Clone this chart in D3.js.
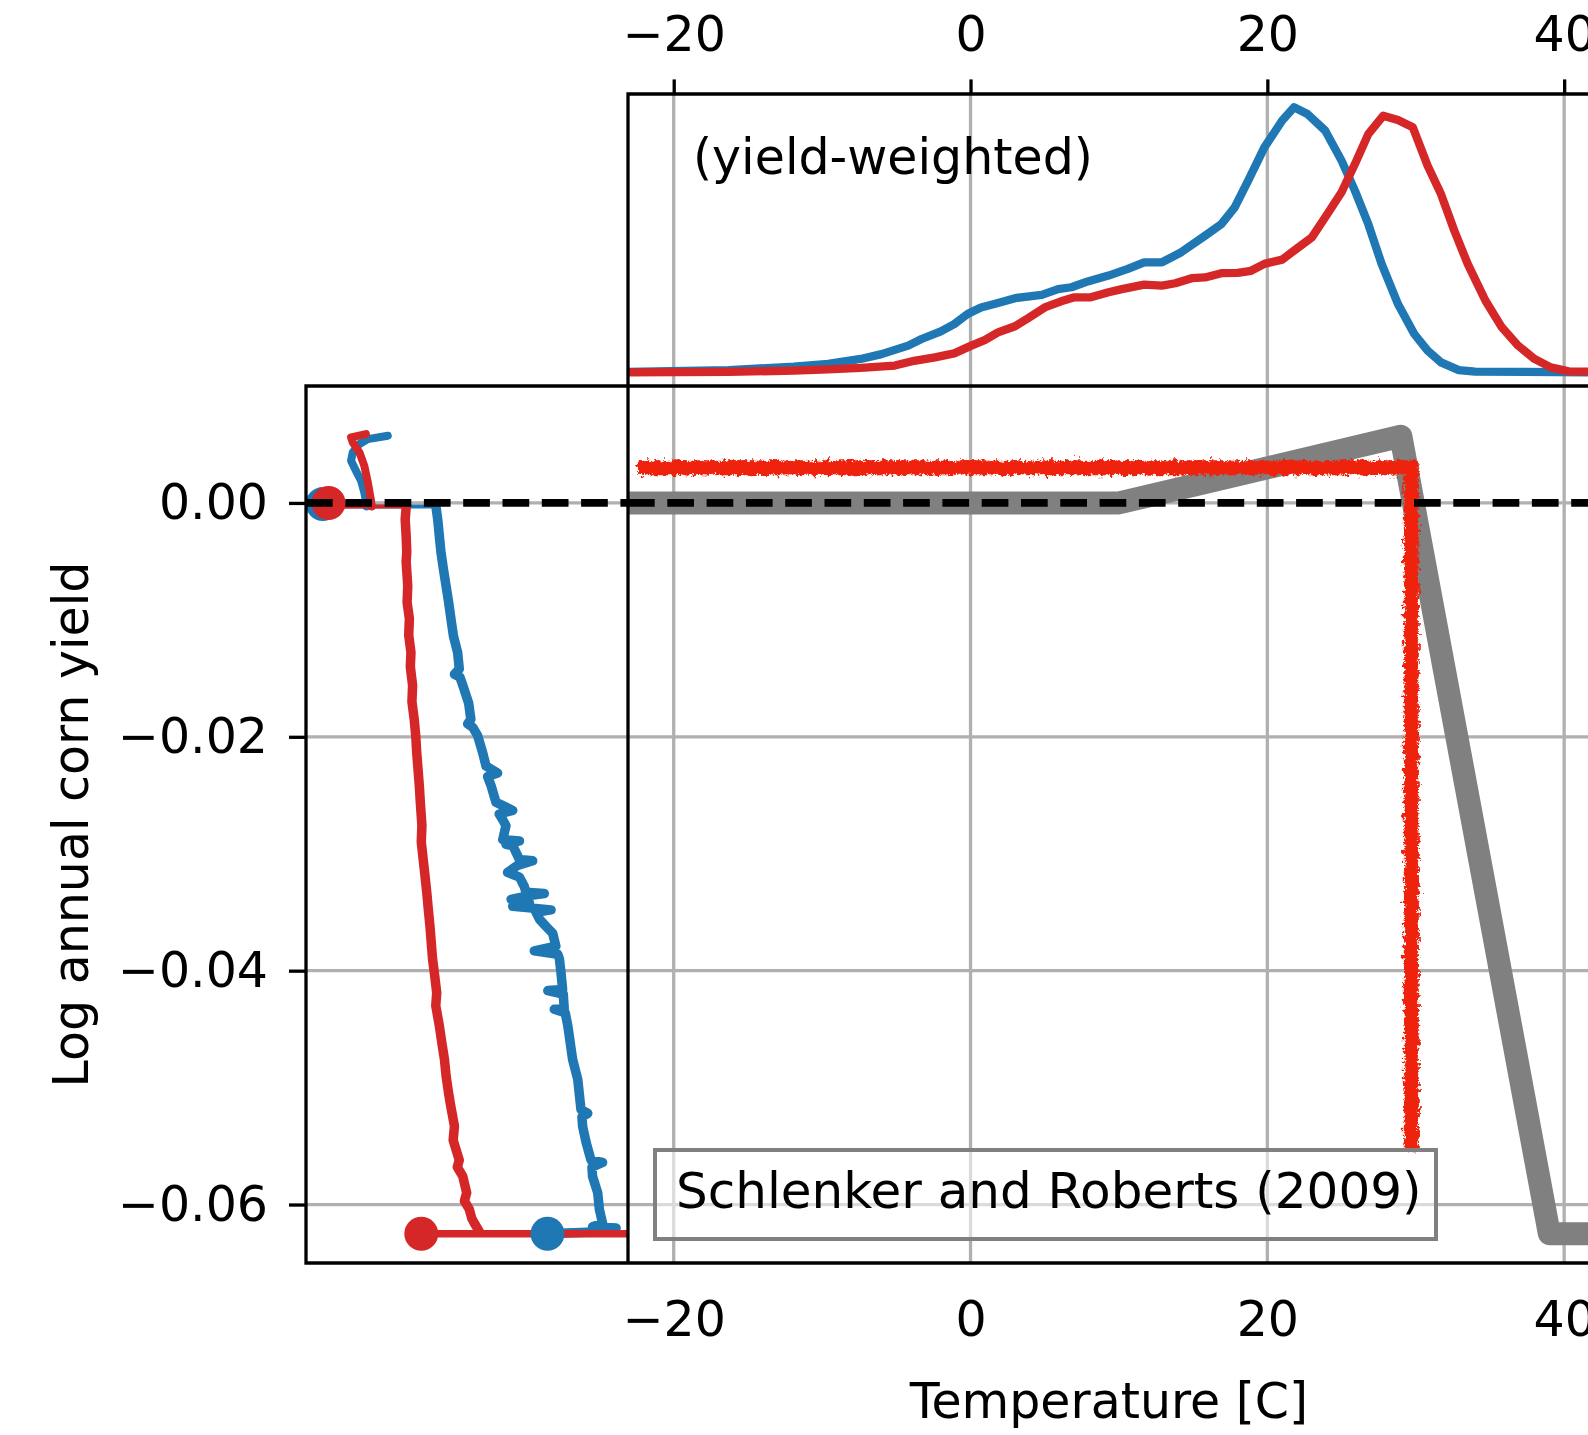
<!DOCTYPE html>
<html><head><meta charset="utf-8">
<script src="https://cdn.jsdelivr.net/npm/d3@7"></script>
<style>
body{margin:0;background:#fff;}
svg{display:block;}
text{font-family:"DejaVu Sans",sans-serif;fill:#000;}
</style>
</head><body>
<svg id="c" width="1588" height="1435"></svg>
<script>
// ---------------- DATA ----------------
const tempTicks = [-20, 0, 20, 40];
const yieldTicks = [0, -0.02, -0.04, -0.06];

// top panel: temperature exposure density (relative, peak of blue = 1)
const blueDensity = [[-26,0.003],[-23.1,0.003],[-16.3,0.010],[-11.9,0.023],[-9.6,0.033],[-7.4,0.052],[-6.0,0.070],[-4.2,0.102],[-3.3,0.127],[-2.0,0.156],[-1.1,0.183],[-0.2,0.221],[0.7,0.246],[1.6,0.259],[3.0,0.281],[4.8,0.293],[5.9,0.315],[6.8,0.322],[7.9,0.344],[9.3,0.366],[10.6,0.391],[11.7,0.416],[12.9,0.416],[14.2,0.454],[15.8,0.516],[16.9,0.560],[17.8,0.623],[18.7,0.723],[19.8,0.849],[21.0,0.950],[21.8,1.0],[22.7,0.975],[23.9,0.912],[25.0,0.799],[25.9,0.686],[26.8,0.560],[27.7,0.410],[28.8,0.259],[29.9,0.146],[30.8,0.083],[31.7,0.039],[32.9,0.010],[34.0,0.004],[41.6,0.0015],[46,0.0015]];
const redDensity = [[-26,0.0015],[-23.1,0.0015],[-16.3,0.003],[-11.9,0.008],[-9.6,0.013],[-7.4,0.018],[-5.1,0.027],[-3.8,0.045],[-2.4,0.058],[-1.1,0.073],[0.05,0.102],[0.95,0.123],[1.85,0.152],[3.0,0.175],[3.9,0.206],[5.0,0.246],[6.1,0.269],[7.0,0.284],[8.1,0.284],[9.3,0.303],[10.2,0.315],[11.7,0.332],[12.9,0.328],[13.8,0.337],[14.9,0.356],[15.8,0.359],[16.9,0.375],[18.0,0.376],[18.9,0.384],[19.8,0.410],[21.0,0.426],[21.8,0.460],[23.0,0.510],[23.9,0.586],[25.0,0.680],[25.9,0.786],[26.8,0.899],[27.8,0.968],[28.8,0.952],[29.8,0.925],[30.8,0.780],[31.7,0.673],[32.6,0.535],[33.5,0.410],[34.7,0.271],[35.8,0.171],[36.9,0.102],[38.0,0.052],[39.1,0.020],[40.3,0.005],[41.6,0.004],[46,0.004]];

// main panel: Schlenker and Roberts (2009) piecewise response
const srTemp  = [-30, 10, 29, 39, 60];
const srYield = [0, 0, 0.0057, -0.0625, -0.0625];
// main panel: noisy estimated response
const fitTemp  = [-22.4, 29.7, 29.7];
const fitYield = [0.003, 0.003, -0.0554];

// left panel: share (0..1 across panel) vs log yield
const blueTopCurve = [[0.254,0.00575],[0.192,0.00546],[0.166,0.00504],[0.145,0.00432],[0.140,0.00361],[0.155,0.00276],[0.171,0.0019],[0.181,0.0009],[0.186,0.00019],[0.188,-0.0003]];
const redTopCurve  = [[0.186,0.00589],[0.140,0.00561],[0.145,0.00518],[0.166,0.00432],[0.181,0.00318],[0.192,0.00176],[0.202,0.00019],[0.204,-0.0003]];
const blueStem = [[0.052,-0.0003],[0.404,-0.0003]];
const redStem  = [[0.070,-0.0003],[0.311,-0.0003]];
const blueDescent = [[0.404,-0.0004],[0.409,-0.0014],[0.414,-0.0028],[0.419,-0.0042],[0.427,-0.0057],[0.435,-0.0071],[0.443,-0.0085],[0.450,-0.0099],[0.458,-0.0114],[0.471,-0.0128],[0.476,-0.0142],[0.461,-0.01465],[0.478,-0.0149],[0.487,-0.0156],[0.505,-0.0171],[0.512,-0.0185],[0.502,-0.0189],[0.518,-0.0192],[0.533,-0.0199],[0.549,-0.0214],[0.559,-0.0225],[0.595,-0.0231],[0.564,-0.0234],[0.575,-0.0242],[0.590,-0.0256],[0.642,-0.0263],[0.600,-0.0266],[0.611,-0.0271],[0.621,-0.0276],[0.611,-0.0288],[0.663,-0.0289],[0.621,-0.0292],[0.642,-0.0293],[0.663,-0.0305],[0.704,-0.0306],[0.657,-0.0310],[0.626,-0.0316],[0.663,-0.0320],[0.678,-0.0328],[0.683,-0.0333],[0.740,-0.0334],[0.688,-0.0336],[0.637,-0.0339],[0.694,-0.0342],[0.642,-0.0345],[0.761,-0.0348],[0.714,-0.0350],[0.725,-0.0356],[0.745,-0.0362],[0.766,-0.0368],[0.776,-0.0379],[0.709,-0.0383],[0.782,-0.0386],[0.787,-0.0390],[0.792,-0.0402],[0.797,-0.0416],[0.751,-0.0417],[0.799,-0.0420],[0.802,-0.0433],[0.771,-0.0433],[0.805,-0.0436],[0.813,-0.0447],[0.828,-0.0476],[0.844,-0.0493],[0.854,-0.0519],[0.875,-0.0522],[0.857,-0.0525],[0.859,-0.0533],[0.870,-0.0547],[0.885,-0.0562],[0.921,-0.0564],[0.888,-0.0568],[0.890,-0.0576],[0.906,-0.0590],[0.911,-0.0604],[0.921,-0.0616],[0.890,-0.0619],[0.963,-0.0620],[0.932,-0.0623]];
const redDescent = [[0.311,-0.0004],[0.308,-0.0014],[0.311,-0.0028],[0.313,-0.0042],[0.311,-0.0050],[0.316,-0.0071],[0.314,-0.0085],[0.321,-0.0099],[0.319,-0.0113],[0.326,-0.0128],[0.324,-0.0140],[0.331,-0.0156],[0.329,-0.0170],[0.336,-0.0185],[0.341,-0.0200],[0.344,-0.0214],[0.348,-0.0228],[0.352,-0.0242],[0.355,-0.0256],[0.360,-0.0276],[0.358,-0.0290],[0.364,-0.0305],[0.370,-0.0320],[0.375,-0.0333],[0.380,-0.0348],[0.385,-0.0362],[0.389,-0.0376],[0.393,-0.0390],[0.400,-0.0405],[0.406,-0.0419],[0.403,-0.0430],[0.414,-0.0447],[0.422,-0.0462],[0.430,-0.0476],[0.435,-0.0490],[0.443,-0.0505],[0.449,-0.0515],[0.461,-0.0533],[0.457,-0.0545],[0.476,-0.0562],[0.470,-0.0568],[0.487,-0.0576],[0.499,-0.0590],[0.492,-0.0597],[0.507,-0.0604],[0.515,-0.0612],[0.523,-0.0616],[0.538,-0.0623]];
const blueBottom = [[0.750,-0.0625],[0.932,-0.0623]];
const redBottom  = [[0.358,-0.0625],[1.0,-0.0625]];
const blueDots = [[0.052,-0.0001],[0.750,-0.0625]];
const redDots  = [[0.070,0.0],[0.358,-0.0625]];

const yLabel = "Log annual corn yield";
const xLabel = "Temperature [C]";
const topNote = "(yield-weighted)";
const legendText = "Schlenker and Roberts (2009)";

// ---------------- LAYOUT ----------------
const BLUE = "#1f77b4", RED = "#d62728", FITRED = "#ee2211", GRID = "#b0b0b0";
const FS = 49;
const P = {left:306, mid:628, right:1598, top:94, split:386, bottom:1263};

const svg = d3.select("#c");
const x = d3.scaleLinear().domain([-23.08, 42.28]).range([P.mid, P.right]);
const y = d3.scaleLinear().domain([-0.065, 0.010]).range([P.bottom, P.split]);
const yTop = d3.scaleLinear().domain([-0.05, 1.05]).range([P.split, P.top]);
const xLeft = d3.scaleLinear().domain([0, 1]).range([P.left, P.mid]);

const defs = svg.append("defs");
defs.append("clipPath").attr("id","clipMain").append("rect")
  .attr("x",P.mid).attr("y",P.split).attr("width",P.right-P.mid).attr("height",P.bottom-P.split);
defs.append("clipPath").attr("id","clipTop").append("rect")
  .attr("x",P.mid).attr("y",P.top).attr("width",P.right-P.mid).attr("height",P.split-P.top);
defs.append("clipPath").attr("id","clipLeft").append("rect")
  .attr("x",P.left).attr("y",P.split).attr("width",P.mid-P.left).attr("height",P.bottom-P.split);
function roughFilter(id, seed, freq, scale){
  const f = defs.append("filter").attr("id",id)
    .attr("x","-5%").attr("y","-5%").attr("width","110%").attr("height","110%");
  f.append("feTurbulence").attr("type","fractalNoise").attr("baseFrequency",freq)
    .attr("numOctaves",3).attr("seed",seed).attr("result","noise");
  f.append("feDisplacementMap").attr("in","SourceGraphic").attr("in2","noise")
    .attr("scale",scale).attr("xChannelSelector","R").attr("yChannelSelector","G");
}
roughFilter("rough1", 3, "0.22", 14);
roughFilter("rough2", 11, "0.6", 9);
roughFilter("rough3", 27, "0.12", 10);

// ---- grid ----
const grid = svg.append("g").attr("stroke",GRID).attr("stroke-width",3.3);
tempTicks.forEach(t=>{
  grid.append("line").attr("x1",x(t)).attr("x2",x(t)).attr("y1",P.top).attr("y2",P.bottom);
});
yieldTicks.forEach(v=>{
  grid.append("line").attr("x1",P.left).attr("x2",P.right).attr("y1",y(v)).attr("y2",y(v));
});

// ---- top panel ----
const lineTop = d3.line().x(d=>x(d[0])).y(d=>yTop(d[1]));
const gTop = svg.append("g").attr("clip-path","url(#clipTop)").attr("fill","none")
  .attr("stroke-width",8.3).attr("stroke-linejoin","round");
gTop.append("path").attr("d",lineTop(blueDensity)).attr("stroke",BLUE);
gTop.append("path").attr("d",lineTop(redDensity)).attr("stroke",RED);
svg.append("text").attr("x",693).attr("y",174).attr("font-size",FS).text(topNote);

// ---- main panel ----
const gMain = svg.append("g").attr("clip-path","url(#clipMain)").attr("fill","none");
const lineMain = d3.line().x(d=>x(d[0])).y(d=>y(d[1]));
gMain.append("path").attr("d",lineMain(srTemp.map((t,i)=>[t,srYield[i]])))
  .attr("stroke","#808080").attr("stroke-width",23).attr("stroke-linejoin","round").attr("stroke-linecap","round");
const fitD = lineMain(fitTemp.map((t,i)=>[t,fitYield[i]]));
[["rough1",13],["rough2",12],["rough3",11]].forEach(([f,w])=>{
  gMain.append("g").attr("filter",`url(#${f})`).append("path")
    .attr("d",fitD).attr("stroke",FITRED).attr("stroke-width",w).attr("stroke-linejoin","miter");
});
gMain.append("line").attr("x1",P.mid).attr("x2",P.right).attr("y1",y(0)).attr("y2",y(0))
  .attr("stroke","#000").attr("stroke-width",7.8).attr("stroke-dasharray","26.7,12.6");
// legend box
const lg = svg.append("g");
lg.append("rect").attr("x",655).attr("y",1150).attr("width",781).attr("height",89)
  .attr("fill","#fff").attr("fill-opacity",0.55).attr("stroke","#808080").attr("stroke-width",4);
lg.append("text").attr("x",676).attr("y",1208).attr("font-size",FS+1).text(legendText);

// ---- left panel ----
const gLeft = svg.append("g").attr("clip-path","url(#clipLeft)").attr("fill","none")
  .attr("stroke-linejoin","round").attr("stroke-linecap","round");
const lineLeft = d3.line().x(d=>xLeft(d[0])).y(d=>y(d[1]));
const LW = 9.5;
gLeft.append("path").attr("d",lineLeft(blueStem)).attr("stroke",BLUE).attr("stroke-width",4);
gLeft.append("path").attr("d",lineLeft(blueTopCurve)).attr("stroke",BLUE).attr("stroke-width",8);
gLeft.append("path").attr("d",lineLeft(blueDescent)).attr("stroke",BLUE).attr("stroke-width",LW);
gLeft.append("path").attr("d",lineLeft(blueBottom)).attr("stroke",BLUE).attr("stroke-width",LW);
gLeft.append("path").attr("d",lineLeft(redStem)).attr("stroke",RED).attr("stroke-width",4);
gLeft.append("path").attr("d",lineLeft(redTopCurve)).attr("stroke",RED).attr("stroke-width",8);
gLeft.append("path").attr("d",lineLeft(redDescent)).attr("stroke",RED).attr("stroke-width",LW);
gLeft.append("path").attr("d",lineLeft(redBottom)).attr("stroke",RED).attr("stroke-width",7.5).attr("stroke-linecap","butt");
const dots = svg.append("g").attr("clip-path","url(#clipLeft)");
[[blueDots[0],BLUE],[redDots[0],RED],[redDots[1],RED],[blueDots[1],BLUE]].forEach(([d,c])=>{
  dots.append("circle").attr("cx",xLeft(d[0])).attr("cy",y(d[1])).attr("r",17).attr("fill",c);
});
svg.append("line").attr("x1",P.left).attr("x2",P.mid).attr("y1",y(0)).attr("y2",y(0))
  .attr("stroke","#000").attr("stroke-width",7.8).attr("stroke-dasharray","26.7,12.6");

// ---- spines ----
const sp = svg.append("g").attr("stroke","#000").attr("stroke-width",3.3).attr("fill","none");
sp.append("path").attr("d",`M${P.right+10},${P.top}H${P.mid}V${P.bottom}`);
sp.append("path").attr("d",`M${P.right+10},${P.split}H${P.left}V${P.bottom}H${P.right+10}`);

// ---- axes ----
const axTop = d3.axisTop(x).tickValues(tempTicks).tickSize(14.6).tickPadding(28).tickFormat(d3.format("d"));
const gAT = svg.append("g").attr("transform",`translate(0,${P.top})`).call(axTop);
const axBot = d3.axisBottom(x).tickValues(tempTicks).tickSize(0).tickPadding(38).tickFormat(d3.format("d"));
const gAB = svg.append("g").attr("transform",`translate(0,${P.bottom})`).call(axBot);
const axLeft = d3.axisLeft(y).tickValues(yieldTicks).tickSize(17).tickPadding(21).tickFormat(d3.format(".2f"));
const gAL = svg.append("g").attr("transform",`translate(${P.left},0)`).call(axLeft);
[gAT,gAB,gAL].forEach(g=>{
  g.select(".domain").remove();
  g.selectAll(".tick line").attr("stroke","#000").attr("stroke-width",3.3);
  g.selectAll(".tick text").attr("font-size",FS).attr("font-family","DejaVu Sans");
});

svg.append("text").attr("x",1109).attr("y",1418).attr("text-anchor","middle").attr("font-size",FS).text(xLabel);
svg.append("text").attr("transform",`translate(88,${(P.split+P.bottom)/2}) rotate(-90)`)
  .attr("text-anchor","middle").attr("font-size",FS).text(yLabel);
</script>
</body></html>
